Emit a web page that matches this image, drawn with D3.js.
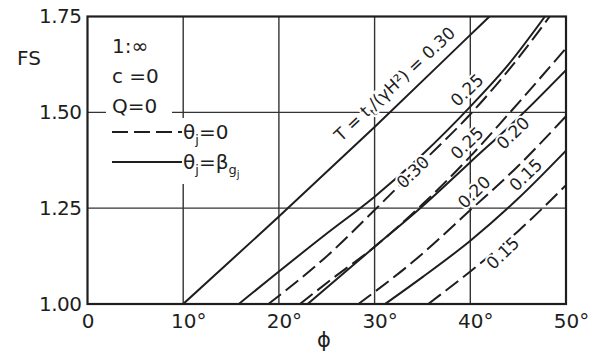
<!DOCTYPE html>
<html><head><meta charset="utf-8">
<script src="https://cdn.jsdelivr.net/npm/d3@7/dist/d3.min.js"></script>
<style>
body{margin:0;background:#fff;}
svg{display:block;}
text{font-family:"DejaVu Sans",sans-serif;fill:#1e1e1e;}
</style></head><body>
<svg id="c" width="601" height="356"></svg>
<script>
// ---- data ----
const xTicks = [0, 10, 20, 30, 40, 50];
const xTickLabels = ["0", "10", "20", "30", "40", "50"];
const yTicks = [1.00, 1.25, 1.50, 1.75];
const yTickLabels = ["1.00", "1.25", "1.50", "1.75"];
const xGrid = [10, 20, 30, 40];
const yGrid = [1.25, 1.50];

// solid: theta_j = beta_gj ; dashed: theta_j = 0
const phiSolid030 = [10, 20, 30, 40, 42.0];
const fsSolid030  = [1.00, 1.228, 1.462, 1.702, 1.75];
const phiSolid025 = [15.8, 24.8, 30, 35, 40, 44, 47.8];
const fsSolid025  = [1.00, 1.18, 1.28, 1.39, 1.515, 1.625, 1.75];
const phiSolid020 = [23.0, 29.85, 35, 40, 45, 50];
const fsSolid020  = [1.00, 1.146, 1.255, 1.37, 1.485, 1.61];
const phiSolid015 = [31.1, 35, 40, 45, 50];
const fsSolid015  = [1.00, 1.07, 1.165, 1.275, 1.40];

const phiDash030 = [18.9, 24.8, 30, 35, 40, 44, 48.3];
const fsDash030  = [1.00, 1.12, 1.245, 1.37, 1.495, 1.61, 1.75];
const phiDash025 = [22.2, 26, 29.85, 35, 40, 43.8, 50];
const fsDash025  = [1.00, 1.074, 1.146, 1.26, 1.385, 1.49, 1.667];
const phiDash020 = [28.3, 34, 40, 45, 50];
const fsDash020  = [1.00, 1.11, 1.245, 1.36, 1.49];
const phiDash015 = [35.6, 40, 45, 50];
const fsDash015  = [1.00, 1.085, 1.19, 1.31];

const seriesT = ["0.30", "0.25", "0.20", "0.15", "0.30", "0.25", "0.20", "0.15"];
const seriesDashed = [false, false, false, false, true, true, true, true];
const seriesPhi = [phiSolid030, phiSolid025, phiSolid020, phiSolid015, phiDash030, phiDash025, phiDash020, phiDash015];
const seriesFS  = [fsSolid030, fsSolid025, fsSolid020, fsSolid015, fsDash030, fsDash025, fsDash020, fsDash015];

const legendParams = ["1:\u221E", "c =0", "Q=0"];

// ---- layout (not data) ----
const labelPos = [ [32.1, 1.574], [39.65, 1.558], [44.46, 1.446], [45.8, 1.337],
                   [34.0, 1.344], [39.65, 1.42], [40.4, 1.292], [43.4, 1.133] ];

const svg = d3.select("#c");
const x = d3.scaleLinear().domain([0, 50]).range([87.5, 566]);
const y = d3.scaleLinear().domain([1.00, 1.75]).range([304, 16.5]);
const ink = "#1e1e1e";

// grid
svg.append("g").selectAll("line").data(xGrid).join("line")
  .attr("x1", d => x(d)).attr("x2", d => x(d)).attr("y1", y(1.75)).attr("y2", y(1.0))
  .attr("stroke", "#333").attr("stroke-width", 1.4);
svg.append("g").selectAll("line").data(yGrid).join("line")
  .attr("x1", x(0)).attr("x2", x(50)).attr("y1", d => y(d)).attr("y2", d => y(d))
  .attr("stroke", "#333").attr("stroke-width", 1.4);

// curves
svg.append("defs").append("clipPath").attr("id", "clip")
  .append("rect").attr("x", x(0)).attr("y", y(1.75)).attr("width", x(50) - x(0)).attr("height", y(1.0) - y(1.75));
const line = d3.line().x(d => x(d[0])).y(d => y(d[1])).curve(d3.curveMonotoneX);
const cg = svg.append("g").attr("clip-path", "url(#clip)");
seriesPhi.forEach((phis, i) => {
  const pts = phis.map((p, k) => [p, seriesFS[i][k]]);
  cg.append("path").attr("d", line(pts)).attr("fill", "none")
    .attr("stroke", ink).attr("stroke-width", 2)
    .attr("stroke-dasharray", seriesDashed[i] ? "16,6" : null);
});

// legend background (covers grid)
svg.append("rect").attr("x", 106).attr("y", 105).attr("width", 66).attr("height", 15).attr("fill", "#fff");
svg.append("rect").attr("x", 106).attr("y", 118).attr("width", 152).attr("height", 66).attr("fill", "#fff");

// frame
svg.append("rect").attr("x", x(0)).attr("y", y(1.75)).attr("width", x(50) - x(0)).attr("height", y(1.0) - y(1.75))
  .attr("fill", "none").attr("stroke", ink).attr("stroke-width", 2.2);

// axes
const yAxis = svg.append("g").attr("transform", `translate(${x(0)},0)`)
  .call(d3.axisLeft(y).tickValues(yTicks).tickSize(0).tickPadding(6)
    .tickFormat((d, i) => yTickLabels[i]));
yAxis.select(".domain").remove();
yAxis.selectAll("text").attr("font-size", 20).attr("font-family", "DejaVu Sans").attr("fill", ink).attr("letter-spacing", -0.5);

const xAxis = svg.append("g").attr("transform", `translate(0,${y(1.0)})`)
  .call(d3.axisBottom(x).tickValues(xTicks).tickSize(0).tickPadding(10)
    .tickFormat((d, i) => xTickLabels[i]));
xAxis.select(".domain").remove();
xAxis.selectAll("text").attr("font-size", 20).attr("font-family", "DejaVu Sans").attr("fill", ink)
  .each(function (d, i) {
    const t = d3.select(this);
    const w = this.getComputedTextLength();
    t.attr("text-anchor", "start").attr("x", -w / 2);
    if (i > 0) t.append("tspan").text("\u00B0");
  });

// axis titles
svg.append("text").attr("x", 29).attr("y", 65).attr("text-anchor", "middle").attr("font-size", 20).text("FS");
svg.append("text").attr("x", 324).attr("y", 347).attr("text-anchor", "middle").attr("font-size", 21).text("\u03D5");

// legend text
legendParams.forEach((s, i) => {
  svg.append("text").attr("x", 112).attr("y", 53 + i * 30).attr("font-size", 20).text(s);
});
svg.append("line").attr("x1", 112).attr("x2", 182).attr("y1", 132).attr("y2", 132)
  .attr("stroke", ink).attr("stroke-width", 2).attr("stroke-dasharray", "16,6");
svg.append("line").attr("x1", 112).attr("x2", 182).attr("y1", 162).attr("y2", 162)
  .attr("stroke", ink).attr("stroke-width", 2);
const l1 = svg.append("text").attr("x", 183).attr("y", 139).attr("font-size", 20);
l1.append("tspan").text("\u03B8");
l1.append("tspan").attr("font-size", 13).attr("dy", 5).text("j");
l1.append("tspan").attr("dy", -5).text("=0");
const l2 = svg.append("text").attr("x", 183).attr("y", 169).attr("font-size", 20);
l2.append("tspan").text("\u03B8");
l2.append("tspan").attr("font-size", 13).attr("dy", 5).text("j");
l2.append("tspan").attr("dy", -5).text("=\u03B2");
l2.append("tspan").attr("font-size", 13).attr("dy", 5).text("g");
l2.append("tspan").attr("font-size", 10).attr("dy", 4).text("j");

// curve labels
seriesT.forEach((t, i) => {
  const [lp, lf] = labelPos[i];
  const g = svg.append("g").attr("transform", `translate(${x(lp)},${y(lf)}) rotate(${i === 0 ? -43 : -44})`);
  const tx = g.append("text").attr("text-anchor", "middle").attr("dy", "0.35em").attr("font-size", 17)
    .attr("stroke", "#fff").attr("stroke-width", 4).attr("paint-order", "stroke");
  if (i === 0) {
    tx.append("tspan").text("T = t");
    tx.append("tspan").attr("font-size", 11).attr("dy", 4).text("t");
    tx.append("tspan").attr("dy", -4).text("/(\u03B3H\u00B2) = " + t);
  } else {
    tx.text(t);
  }
});
</script>
</body></html>
